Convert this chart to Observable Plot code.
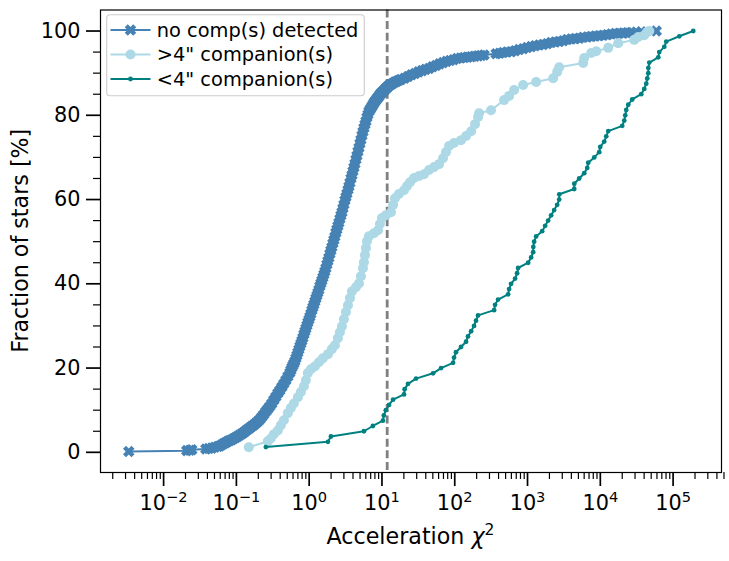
<!DOCTYPE html>
<html><head><meta charset="utf-8">
<script src="https://cdn.jsdelivr.net/npm/d3@7"></script>
<script src="https://cdn.jsdelivr.net/npm/@observablehq/plot@0.6"></script>
<style>
html,body{margin:0;padding:0;background:#fff;}
#chart{width:729px;height:561px;}
</style></head><body><div id="chart"></div>
<script>
// ---- data ----
const seriesNames = ["no comp(s) detected", ">4\" companion(s)", "<4\" companion(s)"];
const seriesColors = ["steelblue", "lightblue", "teal"];

const noCompChi2 = [0.00332,0.0208,0.0229,0.0244,0.0380,0.0417,0.0459,0.0504,
0.0555,0.0591,0.0630,0.0671,0.0715,0.0762,0.0811,0.0865,0.0921,0.0981,0.1045,0.1114,0.1187,0.1264,0.1347,0.1435,0.1529,0.1628,0.1735,0.1848,0.1969,0.2098,0.2235,0.2381,0.2537,0.2703,0.2880,0.3068,0.3268,0.3482,0.3710,0.3953,0.4211,0.4487,0.4780,0.5093,0.5426,0.5601,0.5781,0.5967,0.6159,0.6357,0.6561,0.6773,0.6991,0.7216,0.7448,
0.769,0.794,0.819,0.846,0.873,0.901,0.930,0.959,0.991,1.022,1.055,1.089,1.124,1.160,1.197,1.236,1.276,1.317,1.359,1.403,1.448,1.494,1.542,1.592,1.643,1.696,1.750,1.807,1.865,1.925,1.986,2.050,2.116,2.184,2.254,2.327,2.40,2.48,2.56,2.64,2.73,2.82,2.91,3.00,3.10,3.20,3.30,3.41,3.52,3.63,3.75,3.87,3.99,4.12,4.25,4.39,4.53,4.68,4.83,4.98,5.14,5.31,5.48,5.65,5.84,6.02,6.22,6.42,6.62,
6.83,7.05,7.28,7.51,7.75,8.00,8.26,8.53,8.80,9.08,9.38,9.68,9.99,10.31,10.64,10.98,11.34,11.70,12.08,12.47,13.28,14.15,15.07,16.06,17.11,18.23,
20.39,22.79,25.46,28.44,31.77,35.5,39.66,44.31,49.5,55.3,61.8,69.0,77.1,86.2,96.3,107.6,120.2,134.3,150.0,167.6,187.3,209.2,230.0,253,
370,413,462,524,595,675,766,870,988,1121,1272,1444,1639,1860,2112,2397,2721,3088,3505,3979,4516,5126,5818,6604,7496,8509,9658,10962,12443,14124,16032,18197,20653,23442,26607,31178,36528,58740];
const noCompPct = [0.2,0.4,0.5,0.6,0.8,0.9,1.0,1.2,
1.4,1.5,1.8,2.1,2.3,2.6,2.8,3.0,3.3,3.5,3.8,4.1,4.4,4.7,5.1,5.5,5.8,6.2,6.5,6.9,7.3,7.8,8.4,9.0,9.7,10.3,10.9,11.6,12.4,13.2,14.0,14.7,15.5,16.3,17.1,18.0,18.9,19.5,20.1,20.6,21.1,21.6,22.3,23.0,23.7,24.4,25.1,
25.8,26.5,27.2,28.0,28.7,29.4,30.1,30.8,31.5,32.2,32.9,33.7,34.4,35.1,35.8,36.5,37.2,37.9,38.6,39.4,40.1,40.8,41.5,42.2,42.9,43.7,44.6,45.4,46.2,47.1,47.9,48.7,49.6,50.4,51.2,52.1,52.9,53.7,54.5,55.4,56.2,57.0,57.9,58.8,59.8,60.6,61.4,62.3,63.1,64.0,65.0,65.8,66.7,67.6,68.5,69.5,70.4,71.4,72.3,73.3,74.2,75.2,76.1,77.0,77.8,78.6,79.5,80.2,80.9,
81.3,81.7,82.1,82.5,82.9,83.3,83.6,83.9,84.2,84.5,84.9,85.2,85.4,85.6,85.9,86.1,86.4,86.6,86.8,87.1,87.3,87.6,87.9,88.1,88.3,88.5,
88.8,89.2,89.6,89.9,90.3,90.6,90.9,91.1,91.5,91.8,92.2,92.5,92.8,93.0,93.2,93.5,93.6,93.7,93.8,93.9,94.0,94.1,94.2,94.3,
94.6,94.7,94.9,95.0,95.1,95.3,95.6,95.8,96.1,96.3,96.5,96.7,96.8,97.0,97.3,97.4,97.5,97.7,98.0,98.1,98.2,98.3,98.5,98.6,98.7,98.8,98.9,99.0,99.1,99.3,99.4,99.45,99.5,99.6,99.65,99.7,99.8,100];

const wideChi2 = [0.148,0.270,0.297,0.327,0.371,0.408,0.449,0.509,0.560,0.616,0.700,0.769,0.846,0.901,0.959,1.055,1.197,1.359,1.542,1.81,2.05,2.26,2.48,2.64,2.82,3.00,3.20,3.41,3.63,3.87,4.39,4.83,5.14,5.48,5.65,5.84,6.02,6.22,6.62,7.76,8.81,9.38,10.0,11.35,13.3,14.2,15.1,17.1,20.1,22.1,24.3,27.6,32.3,37.8,44.3,51.9,60.8,69.0,75.9,83.5,97.8,122,143,168,190,209,216,315,476,558,654,870,1313,2250,2554,2722,5820,6010,7500,8790,12850,17630,29240,33200,40150,44150,47100];
const widePct = [1.2,2.6,3.3,4.3,5.2,6.4,7.6,9.3,10.5,11.6,13.1,14.3,15.7,17.1,18.8,19.7,20.4,21.4,22.3,23.3,24.5,25.4,27.1,28.5,29.9,31.6,33.3,34.9,36.6,38.2,39.2,40.1,41.8,43.7,45.1,46.8,48.5,50.1,51.3,52.0,52.7,54.2,55.6,56.3,57.0,58.7,60.3,61.3,62.2,63.2,64.1,65.1,65.6,66.0,67.0,67.7,68.4,69.8,71.3,72.7,73.4,74.1,75.1,76.2,77.9,79.6,80.5,81.2,83.6,84.6,86.0,87.2,87.9,88.8,90.3,91.4,92.4,93.6,94.8,95.2,96.0,97.1,97.9,98.6,99.0,99.8,100];

const closeChi2 = [0.254,1.81,1.99,5.65,7.5,10.3,10.6,11.3,12.5,14.2,20.1,20.5,22.8,29.4,50.3,64.9,94.8,97.8,104,122,143,152,168,184,196,209,347,358,394,541,558,595,675,719,742,1020,1121,1195,1200,1233,1313,1588,1746,1920,2112,2322,2554,2722,2730,4379,4390,5125,6011,6610,6826,8258,9662,9977,11320,12060,12850,20000,21330,22000,22700,24200,27470,36500,40150,42760,44150,45600,45700,47100,62560,64560,75700,80600,121600,189200];
const closePct = [1.25,2.5,3.75,5,6.25,7.5,8.75,10,11.25,12.5,13.75,15,16.25,17.5,18.75,20,21.25,22.5,23.75,25,26.25,27.5,28.75,30,31.25,32.5,33.75,35,36.25,37.5,38.75,40,41.25,42.5,43.75,45,46.25,47.5,48.75,50,51.25,52.5,53.75,55,56.25,57.5,58.75,60,61.25,62.5,63.75,65,66.25,67.5,68.75,70,71.25,72.5,73.75,75,76.25,77.5,78.75,80,81.25,82.5,83.75,85,86.25,87.5,88.75,90,91.25,92.5,93.75,95,96.25,97.5,98.75,100];

const thresholdChi2 = 11.8;
const xMajorTicks = [1e-2, 1e-1, 1, 10, 100, 1e3, 1e4, 1e5];
const xTickExponents = ["\u22122", "\u22121", "0", "1", "2", "3", "4", "5"];
const yMajorTicks = [0, 20, 40, 60, 80, 100];
const yMinorTicks = [5, 10, 15, 25, 30, 35, 45, 50, 55, 65, 70, 75, 85, 90, 95];
const xLabel = "Acceleration ";
const yLabel = "Fraction of stars [%]";

// ---- tables ----
const noComp = noCompChi2.map((x, i) => ({x, y: noCompPct[i]}));
const wide = wideChi2.map((x, i) => ({x, y: widePct[i]}));
const close = closeChi2.map((x, i) => ({x, y: closePct[i]}));

const xMinorTicks = [];
for (let k = -3; k <= 5; k++) for (let m = 2; m <= 9; m++) xMinorTicks.push(m * Math.pow(10, k));

// filled "X" marker
const xSymbol = {
  draw(ctx, size) {
    const r = Math.sqrt(size / Math.PI);
    const a = r * 0.36;
    const pts = [[-a,-r],[a,-r],[a,-a],[r,-a],[r,a],[a,a],[a,r],[-a,r],[-a,a],[-r,a],[-r,-a],[-a,-a]];
    const s = Math.SQRT1_2;
    pts.forEach(([x, y], i) => {
      const X = (x - y) * s, Y = (x + y) * s;
      if (i) ctx.lineTo(X, Y); else ctx.moveTo(X, Y);
    });
    ctx.closePath();
  }
};

const W = 729, H = 561;
const mL = 100, mR = 8, mT = 9.5, mB = 89;
const FONT = "DejaVu Sans";

const svg = Plot.plot({
  width: W, height: H,
  marginLeft: mL, marginRight: mR, marginTop: mT, marginBottom: mB,
  style: {fontFamily: FONT, background: "white", color: "black"},
  x: {type: "log", domain: [Math.pow(10, -2.867), Math.pow(10, 5.665)]},
  y: {domain: [-4.79, 104.99]},
  marks: [
    Plot.ruleX([thresholdChi2], {stroke: "#808080", strokeWidth: 2.8, strokeDasharray: "8,3.6"}),
    Plot.line(noComp, {x: "x", y: "y", stroke: seriesColors[0], strokeWidth: 2}),
    Plot.dot(noComp, {x: "x", y: "y", symbol: xSymbol, r: 6, fill: seriesColors[0]}),
    Plot.line(wide, {x: "x", y: "y", stroke: seriesColors[1], strokeWidth: 2}),
    Plot.dot(wide, {x: "x", y: "y", r: 5, fill: seriesColors[1]}),
    Plot.line(close, {x: "x", y: "y", stroke: seriesColors[2], strokeWidth: 2}),
    Plot.dot(close, {x: "x", y: "y", r: 2.4, fill: seriesColors[2]}),
    Plot.frame({stroke: "black", strokeWidth: 1.2}),
    Plot.axisX(xMajorTicks, {tickSize: 14, tickPadding: 9.2, strokeWidth: 1.7, fontSize: 20.8, label: null,
      tickFormat: (d) => "10^" + xTickExponents[xMajorTicks.indexOf(d)]}),
    Plot.axisX(xMinorTicks, {tickSize: 7, strokeWidth: 1.2, label: null, tickFormat: () => ""}),
    Plot.axisY(yMajorTicks, {tickSize: 14, tickPadding: 6, strokeWidth: 1.7, fontSize: 20.8, label: null,
      tickFormat: (d) => String(d)}),
    Plot.axisY(yMinorTicks, {tickSize: 7, strokeWidth: 1.2, label: null, tickFormat: () => ""})
  ]
});

document.getElementById("chart").appendChild(svg);
const S = d3.select(svg);

// superscripts on x tick labels
S.selectAll("text").each(function() {
  const t = this.textContent;
  if (t && t.startsWith("10^")) {
    const exp = t.slice(3);
    const sel = d3.select(this);
    sel.text(null);
    sel.append("tspan").text("10");
    sel.append("tspan").attr("font-size", 14.6).attr("dy", -8.3).text(exp);
  }
});

// axis labels
const xl = S.append("text").attr("x", 410.5).attr("y", 544).attr("text-anchor", "middle")
  .attr("font-family", FONT).attr("font-size", 22.2).attr("fill", "black");
xl.append("tspan").text(xLabel);
xl.append("tspan").attr("font-style", "italic").text("\u03c7");
xl.append("tspan").attr("font-size", 15.5).attr("dy", -9).text("2");

S.append("text").attr("transform", "translate(28,240.75) rotate(-90)").attr("text-anchor", "middle")
  .attr("font-family", FONT).attr("font-size", 22.2).attr("fill", "black").text(yLabel);

// legend
const lg = S.append("g").attr("text-anchor", "start");
lg.append("rect").attr("x", 106.7).attr("y", 14.8).attr("width", 257.6).attr("height", 81)
  .attr("rx", 3.5).attr("fill", "white").attr("fill-opacity", 0.8).attr("stroke", "#cccccc").attr("stroke-width", 1.1);
const rowsY = [30, 54.5, 79];
rowsY.forEach((yy, i) => {
  lg.append("line").attr("x1", 110.5).attr("x2", 150.5).attr("y1", yy).attr("y2", yy)
    .attr("stroke", seriesColors[i]).attr("stroke-width", 2);
  if (i === 0) {
    const p = d3.path(); xSymbol.draw(p, 36 * Math.PI);
    lg.append("path").attr("d", p.toString()).attr("transform", `translate(130.5,${yy})`).attr("fill", seriesColors[0]);
  } else {
    lg.append("circle").attr("cx", 130.5).attr("cy", yy).attr("r", i === 1 ? 5 : 2.4).attr("fill", seriesColors[i]);
  }
  lg.append("text").attr("x", 156.7).attr("y", yy + 6.8).attr("text-anchor", "start")
    .attr("font-family", FONT).attr("font-size", 19.4).attr("fill", "black").text(seriesNames[i]);
});
</script></body></html>
